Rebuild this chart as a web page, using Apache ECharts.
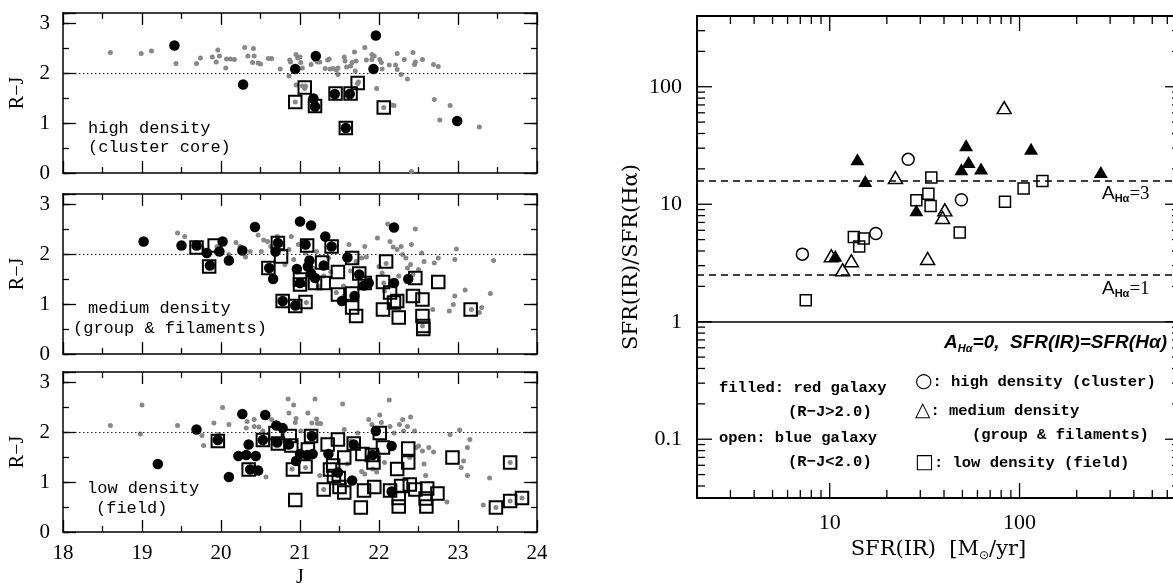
<!DOCTYPE html>
<html>
<head>
<meta charset="utf-8">
<script src="https://cdn.jsdelivr.net/npm/echarts@6/dist/echarts.min.js"></script>
<style>
  html, body { margin: 0; padding: 0; background: #fff; }
  #chart { width: 1173px; height: 583px; }
</style>
</head>
<body>
<div id="chart"></div>
<script>
// ---- left panels: [J, R-J] ----
const highGrey = [[18.60,2.41],[18.99,2.39],[19.12,2.44],[19.43,2.19],[19.69,2.19],[19.74,2.30],[19.89,2.32],[19.94,2.22],[19.96,2.46],[19.98,2.34],[20.06,2.10],[20.07,2.28],[20.12,2.28],[20.17,2.27],[20.30,2.51],[20.34,2.34],[20.40,2.21],[20.41,2.49],[20.42,2.34],[20.47,2.20],[20.50,2.18],[20.60,2.29],[20.64,2.29],[20.75,2.08],[20.86,1.94],[20.87,2.26],[20.88,2.22],[20.95,2.37],[20.97,2.30],[21.00,2.32],[21.01,2.21],[21.03,2.10],[20.95,1.76],[21.03,1.74],[21.06,1.69],[21.07,1.74],[21.14,2.17],[21.19,2.26],[21.22,2.22],[21.25,2.22],[21.32,2.09],[21.35,2.26],[21.37,2.28],[21.38,2.08],[21.42,2.09],[21.46,2.06],[21.48,2.10],[21.48,1.97],[21.56,2.32],[21.57,2.24],[21.59,2.12],[21.64,2.14],[21.66,2.21],[21.69,2.42],[21.70,2.04],[21.71,2.24],[21.73,1.79],[21.74,1.82],[21.82,2.51],[21.84,2.26],[21.91,2.37],[21.91,2.27],[21.94,2.34],[21.97,1.69],[22.01,2.27],[22.03,2.21],[22.04,2.08],[22.13,2.16],[22.16,1.36],[22.19,1.35],[22.21,2.16],[22.23,2.39],[22.23,2.07],[22.28,1.97],[22.32,2.27],[22.36,1.88],[22.41,0.03],[22.43,2.41],[22.45,2.17],[22.46,2.22],[22.55,2.27],[22.69,2.17],[22.70,1.47],[22.75,2.13],[22.77,1.06],[22.90,1.35],[23.27,0.92],[20.94,1.42],[21.06,1.71],[21.58,0.90],[22.06,1.31]];
const highBlack = [[19.41,2.55],[20.28,1.77],[20.94,2.08],[21.20,2.34],[21.17,1.49],[21.19,1.33],[21.44,1.58],[21.63,1.58],[21.58,0.90],[21.96,2.75],[21.93,2.08],[22.99,1.04]];
const highBox = [[20.94,1.42],[21.06,1.71],[21.19,1.34],[21.45,1.59],[21.64,1.59],[21.58,0.90],[21.73,1.80],[22.06,1.31]];

const midGrey = [[19.45,2.42],[19.54,2.35],[19.67,2.22],[19.76,2.13],[19.95,2.15],[19.94,2.05],[20.10,1.99],[20.19,2.23],[20.24,2.15],[20.31,1.94],[20.37,2.05],[20.47,2.38],[20.51,2.05],[20.54,2.28],[20.59,2.25],[20.63,2.15],[20.71,2.35],[20.78,2.19],[20.81,1.79],[20.86,2.09],[20.89,2.35],[20.92,1.89],[20.98,2.19],[21.07,2.02],[21.08,1.03],[21.10,1.92],[21.16,1.72],[21.21,2.05],[21.23,1.36],[21.30,1.56],[21.36,1.92],[21.39,1.64],[21.46,1.23],[21.55,1.36],[21.56,1.16],[21.62,2.19],[21.64,1.66],[21.68,1.09],[21.71,1.85],[21.78,1.92],[21.82,2.15],[21.84,1.94],[21.98,2.32],[22.00,1.75],[22.04,1.62],[22.06,1.42],[22.07,1.26],[22.09,1.81],[22.11,2.60],[22.14,2.25],[22.15,1.36],[22.18,2.14],[22.23,2.09],[22.25,1.56],[22.28,2.15],[22.30,1.99],[22.34,1.92],[22.36,1.72],[22.40,1.79],[22.41,2.19],[22.43,1.59],[22.46,2.50],[22.50,1.69],[22.54,2.02],[22.57,1.85],[22.55,0.56],[22.68,0.89],[22.70,1.82],[22.75,1.92],[22.89,0.86],[22.94,0.99],[22.96,1.16],[22.98,2.10],[22.96,1.89],[23.09,1.28],[23.17,0.89],[23.27,0.83],[23.30,0.93],[23.41,1.21],[23.45,1.87]];
const midBlack = [[19.02,2.25],[19.50,2.17],[19.69,2.17],[19.82,2.02],[19.86,1.77],[19.98,2.05],[20.02,2.25],[20.10,1.87],[20.27,2.07],[20.43,2.54],[20.61,1.72],[20.66,1.50],[20.72,2.22],[20.69,2.05],[20.78,1.06],[20.94,0.97],[20.96,1.70],[21.00,2.65],[21.00,1.42],[21.07,2.19],[21.12,1.87],[21.14,2.57],[21.10,1.75],[21.14,1.61],[21.19,1.52],[21.32,2.35],[21.30,1.77],[21.40,2.15],[21.60,1.93],[21.53,1.06],[21.69,1.16],[21.75,1.59],[21.81,1.37],[21.87,1.42],[22.19,2.53],[22.19,1.42],[22.37,1.50]];
const midBox = [[19.69,2.13],[19.92,2.17],[19.85,1.75],[20.60,1.72],[20.72,2.22],[20.76,1.95],[20.78,1.06],[20.94,0.96],[21.00,1.49],[21.00,1.39],[21.07,1.04],[21.09,2.17],[21.19,1.42],[21.28,1.83],[21.30,1.42],[21.40,2.15],[21.48,1.64],[21.48,1.19],[21.66,1.92],[21.66,1.21],[21.66,0.93],[21.71,0.76],[21.75,1.61],[21.82,1.42],[22.05,1.44],[22.05,0.89],[22.09,1.85],[22.14,1.23],[22.19,1.03],[22.23,1.06],[22.25,0.73],[22.43,1.16],[22.46,1.52],[22.55,1.09],[22.55,0.76],[22.56,0.56],[22.56,0.50],[22.75,1.44],[23.16,0.89]];

const lowGrey = [[18.60,2.13],[18.98,1.96],[19.00,2.54],[19.45,2.13],[19.76,1.93],[19.78,1.73],[19.91,2.18],[19.97,1.95],[20.02,2.49],[20.10,2.15],[20.32,2.08],[20.33,2.21],[20.42,2.25],[20.42,2.11],[20.48,2.10],[20.53,2.02],[20.57,1.10],[20.64,2.25],[20.85,2.66],[20.86,2.38],[20.92,2.54],[20.94,2.19],[20.95,2.27],[20.90,1.26],[21.01,2.02],[21.07,1.29],[21.10,2.38],[21.15,2.18],[21.19,2.66],[21.21,2.26],[21.22,2.17],[21.26,2.17],[21.25,1.13],[21.30,0.85],[21.54,2.56],[21.56,2.05],[21.60,1.36],[21.64,1.82],[21.73,1.98],[21.78,1.21],[21.82,1.16],[21.87,2.25],[21.91,2.15],[21.92,1.26],[21.97,1.20],[21.99,1.59],[22.01,2.34],[22.03,2.19],[22.07,1.39],[22.13,2.64],[22.14,2.11],[22.19,1.98],[22.26,2.15],[22.30,2.25],[22.31,2.02],[22.36,2.11],[22.40,2.30],[22.39,1.49],[22.45,2.02],[22.47,1.69],[22.50,1.72],[22.55,1.62],[22.57,1.36],[22.59,1.13],[22.63,1.69],[22.69,1.60],[22.86,0.60],[22.90,1.95],[23.02,2.04],[23.04,1.29],[23.07,1.42],[23.12,1.13],[23.12,1.69],[23.15,1.85],[23.32,0.54],[23.40,1.08],[23.48,0.49],[23.66,1.39],[23.66,0.62],[23.81,0.68]];
const lowBlack = [[19.20,1.36],[19.69,2.05],[19.96,1.84],[20.10,1.10],[20.22,1.52],[20.27,2.36],[20.32,1.54],[20.35,1.75],[20.37,1.25],[20.44,1.52],[20.47,1.23],[20.53,1.84],[20.56,2.34],[20.70,2.13],[20.71,1.79],[20.78,2.08],[20.86,1.75],[20.95,1.42],[21.00,1.56],[21.09,1.54],[21.15,1.92],[21.16,1.56],[21.36,1.56],[21.48,1.19],[21.66,1.03],[21.68,1.75],[21.92,1.54],[21.96,2.02],[22.16,0.81],[22.16,1.72]];
const lowBox = [[19.96,1.82],[20.35,1.25],[20.53,1.84],[20.69,1.98],[20.72,1.77],[20.87,1.92],[20.89,1.73],[20.91,1.25],[20.94,0.64],[21.10,1.65],[21.07,1.31],[21.14,1.92],[21.30,0.85],[21.35,1.75],[21.38,1.25],[21.42,1.33],[21.43,1.12],[21.48,1.85],[21.49,1.08],[21.50,0.90],[21.56,1.49],[21.56,0.79],[21.68,1.77],[21.77,0.49],[21.79,1.56],[21.81,0.83],[21.91,1.54],[21.93,1.39],[21.94,0.90],[22.01,1.98],[22.05,1.69],[22.14,0.83],[22.23,1.26],[22.25,0.68],[22.25,0.51],[22.28,0.92],[22.37,1.67],[22.37,1.39],[22.39,0.95],[22.46,0.85],[22.59,0.67],[22.60,0.51],[22.61,0.87],[22.74,0.77],[22.93,1.49],[23.48,0.49],[23.66,1.39],[23.66,0.62],[23.81,0.68]];

const panelNotes = [
  ['high density', '(cluster core)'],
  ['medium density', '(group & filaments)'],
  ['low density', '(field)']
];
const jTicks = [18, 24];
const rjRange = [0, 3.2];

// ---- right panel: [SFR(IR), SFR(IR)/SFR(Halpha)] ----
const clusterOpen = [[7.18,3.76],[17.5,5.64],[25.9,24.1],[49.4,10.9]];
const groupOpen = [[10.2,3.64],[13.0,3.30],[11.7,2.77],[22.2,16.9],[32.8,3.45],[39.3,7.71],[40.4,8.96],[83.0,66.4]];
const groupFilled = [[10.7,3.64],[14.0,24.1],[15.4,15.8],[28.6,8.89],[49.4,19.8],[52.3,31.7],[53.9,22.9],[62.7,20.1],[115,29.7],[268,18.8]];
const fieldOpen = [[7.48,1.52],[13.4,5.27],[14.3,4.36],[15.1,5.10],[28.6,10.8],[33.1,12.3],[34.0,9.68],[34.3,16.9],[48.4,5.74],[83.8,10.5],[105,13.6],[132,15.8]];
const extinctionLines = [15.85, 2.512, 1];
const sfrRange = [2, 700];
const ratioRange = [0.0316, 400];
const sfrMajor = [10, 100];
const ratioMajor = [0.1, 1, 10, 100];
const sfrMinor = [3,4,5,6,7,8,9,20,30,40,50,60,70,80,90,200,300,400,500,600];
const ratioMinor = [0.04,0.05,0.06,0.07,0.08,0.09,0.2,0.3,0.4,0.5,0.6,0.7,0.8,0.9,2,3,4,5,6,7,8,9,20,30,40,50,60,70,80,90,200,300];

const SERIF = "'Liberation Serif', 'DejaVu Serif', serif";
const WIDE_SERIF = "'DejaVu Serif', 'Liberation Serif', serif";
const MONO = "'Liberation Mono', 'DejaVu Sans Mono', monospace";
const SANS = "'Liberation Sans', 'DejaVu Sans', sans-serif";

const chart = echarts.init(document.getElementById('chart'));

const leftTops = [13, 194, 372];
const grids = leftTops.map(t => ({ left: 63, top: t, width: 474, height: 160, outerBoundsMode: 'none' }));
grids.push({ left: 697, top: 16, width: 483, height: 482, outerBoundsMode: 'none' });

const xAxes = [];
const yAxes = [];
const series = [];

const line = { color: '#000', width: 1.5 };
const tickLine = { color: '#000', width: 1.3 };

leftTops.forEach((t, g) => {
  const last = g === 2;
  ['bottom', 'top'].forEach(pos => {
    xAxes.push({
      type: 'value', gridIndex: g, position: pos, min: jTicks[0], max: jTicks[1], interval: 1,
      axisLine: { show: true, onZero: false, lineStyle: line },
      axisTick: { show: true, inside: true, length: 12, lineStyle: tickLine },
      minorTick: { show: true, splitNumber: 2, length: 6, lineStyle: tickLine },
      splitLine: { show: false }, minorSplitLine: { show: false },
      axisLabel: { show: last && pos === 'bottom', margin: 11, fontFamily: SERIF, fontSize: 21, color: '#000' },
      name: last && pos === 'bottom' ? 'J' : '', nameLocation: 'middle', nameGap: 36,
      nameTextStyle: { fontFamily: SERIF, fontSize: 20, color: '#000' }
    });
  });
  ['left', 'right'].forEach(pos => {
    [true, false].forEach(major => {
      yAxes.push({
        type: 'value', gridIndex: g, position: pos, min: rjRange[0], max: rjRange[1], interval: major ? 1 : 0.5,
        axisLine: { show: major, onZero: false, lineStyle: line },
        axisTick: { show: true, inside: true, length: major ? 13 : 6, lineStyle: tickLine },
        splitLine: { show: false },
        axisLabel: { show: major && pos === 'left', margin: 13, fontFamily: SERIF, fontSize: 21, color: '#000',
          formatter: v => (Number.isInteger(v) ? String(v) : '') },
        name: major && pos === 'left' ? 'R\u2212J' : '', nameLocation: 'middle', nameGap: 35,
        nameTextStyle: { fontFamily: SERIF, fontSize: 20, color: '#000' }
      });
    });
  });
  const xi = 2 * g, yi = 4 * g;
  series.push({
    type: 'scatter', xAxisIndex: xi, yAxisIndex: yi, data: [highGrey, midGrey, lowGrey][g],
    symbol: 'circle', symbolSize: 5, itemStyle: { color: '#888888', opacity: 1 }, z: 2,
    markLine: { silent: true, symbol: ['none', 'none'], label: { show: false },
      lineStyle: { type: [1.5, 2.5], color: '#222', width: 1.2 }, data: [{ yAxis: 2 }] }
  });
  series.push({
    type: 'scatter', xAxisIndex: xi, yAxisIndex: yi, data: [highBlack, midBlack, lowBlack][g],
    symbol: 'circle', symbolSize: 10.5, itemStyle: { color: '#000', opacity: 1 }, z: 3
  });
  series.push({
    type: 'scatter', xAxisIndex: xi, yAxisIndex: yi, data: [highBox, midBox, lowBox][g],
    symbol: 'rect', symbolSize: 12.5, itemStyle: { color: 'transparent', borderColor: '#000', borderWidth: 2, opacity: 1 }, z: 4
  });
});

// right panel
const logLabel = v => {
  const l = Math.log10(v);
  return Math.abs(l - Math.round(l)) < 1e-6 ? String(+v.toPrecision(3)) : '';
};
const rLine = { color: '#000', width: 2 };
['bottom', 'top'].forEach(pos => {
  xAxes.push({
    type: 'log', logBase: 10, gridIndex: 3, position: pos, min: sfrRange[0], max: sfrRange[1],
    axisLine: { show: true, onZero: false, lineStyle: rLine },
    axisTick: { show: false },
    splitLine: { show: false },
    axisLabel: { show: pos === 'bottom', margin: 14, fontFamily: SERIF, fontSize: 22, color: '#000', formatter: logLabel },
    name: pos === 'bottom' ? '{a|SFR(IR)  [M}{s|\u2299}{a|/yr]}' : '', nameLocation: 'middle', nameGap: 38,
    nameTextStyle: { rich: {
      a: { fontFamily: WIDE_SERIF, fontSize: 21, color: '#000' },
      s: { fontFamily: "'DejaVu Sans', sans-serif", fontSize: 12, color: '#000', verticalAlign: 'bottom', padding: [12, 0, 0, 0] }
    } }
  });
});
['left', 'right'].forEach(pos => {
  yAxes.push({
    type: 'log', logBase: 10, gridIndex: 3, position: pos, min: ratioRange[0], max: ratioRange[1],
    axisLine: { show: true, onZero: false, lineStyle: rLine },
    axisTick: { show: false },
    splitLine: { show: false },
    axisLabel: { show: pos === 'left', margin: 15, fontFamily: SERIF, fontSize: 22, color: '#000', formatter: logLabel },
    name: pos === 'left' ? 'SFR(IR)/SFR(H\u03b1)' : '', nameLocation: 'middle', nameGap: 55,
    nameTextStyle: { fontFamily: WIDE_SERIF, fontSize: 21, color: '#000' }
  });
});

const openStyle = { color: 'transparent', borderColor: '#000', borderWidth: 1.5, opacity: 1 };
series.push({
  type: 'scatter', xAxisIndex: 6, yAxisIndex: 12, data: fieldOpen, symbol: 'rect', symbolSize: 11,
  itemStyle: openStyle, z: 4,
  markLine: {
    silent: true, symbol: ['none', 'none'], label: { show: false },
    data: extinctionLines.map((v, i) => ({
      yAxis: v, lineStyle: { color: '#000', width: 1.5, type: i < 2 ? [7, 5] : 'solid' }
    }))
  }
});
series.push({ type: 'scatter', xAxisIndex: 6, yAxisIndex: 12, data: clusterOpen, symbol: 'circle', symbolSize: 12, itemStyle: openStyle, z: 4 });
series.push({ type: 'scatter', xAxisIndex: 6, yAxisIndex: 12, data: groupOpen, symbol: 'triangle', symbolSize: [14, 12], itemStyle: openStyle, z: 4 });
series.push({ type: 'scatter', xAxisIndex: 6, yAxisIndex: 12, data: groupFilled, symbol: 'triangle', symbolSize: [14, 12], itemStyle: { color: '#000', opacity: 1 }, z: 5 });

// ticks of the log axes, drawn on all four sides
const xTickItems = sfrMajor.map(v => [v, 1, 15]).concat(sfrMinor.map(v => [v, 1, 8]));
const yTickItems = ratioMajor.map(v => [10, v, 15]).concat(ratioMinor.map(v => [10, v, 8]));
series.push({
  type: 'custom', xAxisIndex: 6, yAxisIndex: 12, silent: true, z: 6, clip: false,
  data: xTickItems,
  renderItem: (params, api) => {
    const cs = params.coordSys;
    const x = api.coord([api.value(0), 1])[0];
    const len = api.value(2);
    const b = cs.y + cs.height;
    return { type: 'group', children: [
      { type: 'line', shape: { x1: x, y1: b, x2: x, y2: b - len }, style: { stroke: '#000', lineWidth: 1.3 } },
      { type: 'line', shape: { x1: x, y1: cs.y, x2: x, y2: cs.y + len }, style: { stroke: '#000', lineWidth: 1.3 } }
    ] };
  }
});
series.push({
  type: 'custom', xAxisIndex: 6, yAxisIndex: 12, silent: true, z: 6, clip: false,
  data: yTickItems,
  renderItem: (params, api) => {
    const cs = params.coordSys;
    const y = api.coord([10, api.value(1)])[1];
    const len = api.value(2);
    const r = cs.x + cs.width;
    return { type: 'group', children: [
      { type: 'line', shape: { x1: cs.x, y1: y, x2: cs.x + len, y2: y }, style: { stroke: '#000', lineWidth: 1.3 } },
      { type: 'line', shape: { x1: r - len, y1: y, x2: r, y2: y }, style: { stroke: '#000', lineWidth: 1.3 } }
    ] };
  }
});

series.forEach(s => { s.emphasis = { disabled: true }; });

// annotations
const txt = (x, y, text, font, align) => ({
  type: 'text', x, y, silent: true,
  style: { text, font, fill: '#000', textAlign: align || 'left', textVerticalAlign: 'middle' }
});
const noteFont = `17px ${MONO}`;
const legFont = `bold 15.5px ${MONO}`;
const subRich = {
  a: { font: `19px ${SANS}`, fill: '#000' },
  s: { font: `bold 11px ${SANS}`, fill: '#000', verticalAlign: 'bottom', padding: [10, 0, 0, 0] },
  n: { font: `19px ${SERIF}`, fill: '#000' },
  i: { font: `italic bold 19px ${SANS}`, fill: '#000' },
  si: { font: `italic bold 11px ${SANS}`, fill: '#000', verticalAlign: 'bottom', padding: [11, 0, 0, 0] },
  g: { font: `20px 'DejaVu Sans', sans-serif`, fill: '#000' },
  t: { font: legFont, fill: '#000' }
};
const richTxt = (x, y, text, align) => ({
  type: 'text', x, y, silent: true,
  style: { text, rich: subRich, fill: '#000', textAlign: align || 'left', textVerticalAlign: 'middle' }
});

const graphic = [
  txt(88, 128, panelNotes[0][0], noteFont), txt(88, 147, panelNotes[0][1], noteFont),
  txt(88, 308, panelNotes[1][0], noteFont), txt(73, 328, panelNotes[1][1], noteFont),
  txt(87, 488, panelNotes[2][0], noteFont), txt(96, 508, panelNotes[2][1], noteFont),
  txt(719, 388, 'filled: red galaxy', legFont),
  txt(788, 412, '(R\u2212J>2.0)', legFont),
  txt(719, 438, 'open: blue galaxy', legFont),
  txt(788, 462, '(R\u2212J<2.0)', legFont),
  richTxt(915, 382, '{g|\u25cb}{t|: high density (cluster)}'),
  richTxt(915, 411, '{g|\u25b3}{t|: medium density}'),
  txt(972, 435, '(group & filaments)', legFont),
  richTxt(915, 463, '{g|\u25a1}{t|: low density (field)}'),
  richTxt(1102, 194, '{a|A}{s|H\u03b1}{n|=3}'),
  richTxt(1102, 289, '{a|A}{s|H\u03b1}{n|=1}'),
  richTxt(1167, 343, '{i|A}{si|H\u03b1}{i|=0,  SFR(IR)=SFR(H\u03b1)}', 'right')
];

chart.setOption({
  animation: false,
  backgroundColor: '#fff',
  grid: grids,
  xAxis: xAxes,
  yAxis: yAxes,
  series,
  graphic
});
</script>
</body>
</html>
